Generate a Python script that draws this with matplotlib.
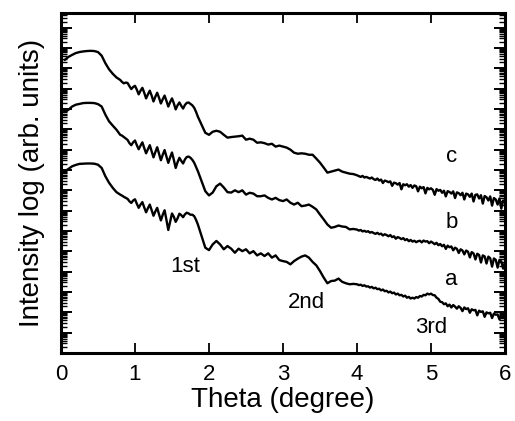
import numpy as np
import matplotlib.pyplot as plt
from matplotlib.ticker import LogLocator, NullFormatter

plt.rcParams['font.family'] = ['Liberation Sans', 'DejaVu Sans']

# theta grid, finer where the fringes and the noise are
theta_rise = np.round(np.arange(0.05, 0.801, 0.05), 3)
theta_fringe = np.round(np.arange(0.825, 1.8501, 0.025), 3)
theta_mid = np.round(np.arange(1.90, 3.951, 0.05), 3)
theta_tail = np.round(np.arange(4.0, 6.0001, 0.025), 3)
theta = np.concatenate([theta_rise, theta_fringe, theta_mid, theta_tail])

# log10(intensity) (curves are shifted vertically)
c_rise = [14.41, 14.56, 14.66, 14.75, 14.80, 14.83, 14.85, 14.86, 14.85, 14.80,
          14.62, 14.25, 13.95, 13.73, 13.55, 13.43]
c_fringe = [13.33, 13.26, 13.30, 13.28, 13.12, 12.98, 13.08, 13.14,
            12.95, 12.72, 12.90, 13.04, 12.80, 12.52, 12.72, 12.90,
            12.66, 12.37, 12.60, 12.80, 12.55, 12.27, 12.48, 12.66,
            12.40, 12.12, 12.34, 12.52, 12.28, 11.98, 12.18, 12.32,
            12.16, 12.02, 12.20, 12.30, 12.32, 12.25, 12.18, 12.06,
            11.86, 11.62]
c_mid = [11.23, 10.83, 10.73, 10.88, 10.93, 10.88, 10.73, 10.59, 10.62, 10.64,
         10.66, 10.69, 10.49, 10.54, 10.49, 10.34, 10.36, 10.32, 10.25, 10.29,
         10.15, 10.20, 10.15, 10.10, 10.00, 9.85, 9.80, 9.82, 9.80, 9.75,
         9.75, 9.56, 9.36, 9.12, 8.87, 8.92, 8.97, 9.02, 8.92, 8.87,
         8.82, 8.80]
c_tail = [8.74, 8.70, 8.66, 8.71, 8.63, 8.66, 8.62, 8.58, 8.63, 8.55,
          8.51, 8.58, 8.48, 8.53, 8.36, 8.48, 8.45, 8.40, 8.44, 8.22,
          8.38, 8.35, 8.28, 8.36, 8.05, 8.30, 8.25, 8.30, 8.18, 8.26,
          8.12, 8.24, 8.20, 7.95, 8.18, 8.10, 8.16, 7.85, 8.12, 8.05,
          8.10, 8.02, 7.78, 8.06, 7.98, 8.02, 7.88, 7.98, 7.70, 7.96,
          7.92, 7.84, 7.95, 7.62, 7.90, 7.86, 7.76, 7.88, 7.55, 7.84,
          7.80, 7.68, 7.84, 7.45, 7.78, 7.80, 7.60, 7.76, 7.35, 7.72,
          7.66, 7.50, 7.70, 7.25, 7.62, 7.55, 7.30, 7.60, 7.10, 7.50,
          7.40]

b_rise = [11.86, 11.96, 12.12, 12.21, 12.25, 12.29, 12.30, 12.30, 12.29, 12.24,
          12.12, 11.72, 11.39, 11.18, 10.98, 10.73]
b_fringe = [10.69, 10.62, 10.55, 10.48, 10.32, 10.22, 10.36, 10.45,
            10.22, 10.02, 10.20, 10.36, 10.08, 9.82, 10.02, 10.22,
            9.92, 9.62, 9.88, 10.12, 9.80, 9.48, 9.75, 9.98,
            9.66, 9.35, 9.62, 9.86, 9.50, 9.10, 9.38, 9.60,
            9.45, 9.32, 9.52, 9.64, 9.66, 9.60, 9.50, 9.36,
            9.15, 8.94]
b_mid = [8.45, 7.96, 7.75, 7.89, 8.20, 8.33, 8.14, 7.91, 7.89, 8.00,
         7.91, 8.00, 7.79, 7.88, 7.84, 7.71, 7.71, 7.75, 7.63, 7.55,
         7.63, 7.52, 7.47, 7.55, 7.39, 7.30, 7.39, 7.22, 7.25, 7.30,
         7.19, 7.06, 6.81, 6.57, 6.32, 6.16, 6.20, 6.27, 6.22, 6.20,
         6.08, 6.10]
b_tail = [6.07, 6.02, 6.05, 5.98, 6.01, 5.96, 5.99, 5.92, 5.95, 5.90,
          5.86, 5.91, 5.84, 5.87, 5.78, 5.84, 5.80, 5.74, 5.80, 5.70,
          5.74, 5.62, 5.70, 5.66, 5.60, 5.65, 5.55, 5.60, 5.50, 5.56,
          5.48, 5.52, 5.45, 5.50, 5.52, 5.44, 5.53, 5.48, 5.50, 5.40,
          5.48, 5.42, 5.35, 5.42, 5.30, 5.36, 5.25, 5.32, 5.12, 5.28,
          5.20, 5.24, 5.05, 5.18, 5.12, 4.92, 5.10, 5.04, 4.85, 5.04,
          4.98, 4.70, 4.96, 4.90, 4.60, 4.88, 4.82, 4.45, 4.80, 4.75,
          4.40, 4.74, 4.66, 4.25, 4.65, 4.58, 4.20, 4.58, 4.50, 4.15,
          4.48]

a_rise = [8.94, 9.05, 9.18, 9.25, 9.30, 9.31, 9.32, 9.32, 9.31, 9.26,
          9.10, 8.69, 8.37, 8.12, 7.91, 7.79]
a_fringe = [7.74, 7.68, 7.63, 7.58, 7.46, 7.38, 7.50, 7.56,
            7.34, 7.14, 7.30, 7.42, 7.16, 6.92, 7.12, 7.30,
            7.02, 6.75, 6.96, 7.14, 6.82, 6.52, 6.80, 7.02,
            6.55, 6.05, 6.45, 6.86, 6.70, 6.45, 6.62, 6.85,
            6.78, 6.68, 6.82, 6.90, 6.86, 6.80, 6.80, 6.73,
            6.55, 6.32]
a_mid = [5.75, 5.18, 5.06, 5.34, 5.51, 5.34, 5.10, 5.26, 5.13, 4.93,
         5.13, 5.01, 5.10, 4.90, 5.01, 4.80, 4.90, 4.77, 4.90, 4.69,
         4.80, 4.57, 4.52, 4.48, 4.36, 4.52, 4.64, 4.74, 4.80, 4.69,
         4.48, 4.31, 4.03, 3.71, 3.43, 3.54, 3.56, 3.66, 3.50, 3.43,
         3.38, 3.40]
a_tail = [3.38, 3.34, 3.36, 3.30, 3.33, 3.27, 3.28, 3.22, 3.25, 3.18,
          3.21, 3.14, 3.16, 3.08, 3.12, 3.04, 3.06, 2.98, 3.02, 2.94,
          2.97, 2.88, 2.92, 2.84, 2.86, 2.78, 2.82, 2.72, 2.76, 2.68,
          2.72, 2.68, 2.75, 2.72, 2.80, 2.78, 2.86, 2.84, 2.92, 2.88,
          2.92, 2.85, 2.84, 2.72, 2.66, 2.52, 2.50, 2.40, 2.44, 2.30,
          2.38, 2.24, 2.36, 2.28, 2.18, 2.30, 2.22, 2.06, 2.24, 2.16,
          2.20, 1.98, 2.15, 2.10, 2.12, 1.85, 2.08, 2.02, 2.05, 1.78,
          2.00, 1.95, 1.98, 1.72, 1.94, 1.88, 1.90, 1.65, 1.88, 1.80,
          1.84]

curve_names = ['a', 'b', 'c']
curve_label_pos = [(5.28, 3.63), (5.28, 6.42), (5.28, 9.66)]
peak_names = ['1st', '2nd', '3rd']
peak_label_pos = [(1.68, 4.26), (3.32, 2.50), (5.00, 1.23)]

curves = [a_rise + a_fringe + a_mid + a_tail,
          b_rise + b_fringe + b_mid + b_tail,
          c_rise + c_fringe + c_mid + c_tail]

fig = plt.figure(figsize=(5.15, 4.21), dpi=100)
ax = fig.add_axes([0.1184, 0.1615, 0.8622, 0.8076])

for vals in curves:
    ax.plot(theta, np.power(10.0, vals), color='black', lw=1.7,
            solid_joinstyle='round', solid_capstyle='round')

ax.set_yscale('log')
ax.set_xlim(0, 6)
ax.set_ylim(1, 10 ** 16.72)

for name, (xx, yy) in zip(curve_names, curve_label_pos):
    ax.text(xx, 10 ** yy, name, fontsize=16, ha='center', va='center')
for name, (xx, yy) in zip(peak_names, peak_label_pos):
    ax.text(xx, 10 ** yy, name, fontsize=16, ha='center', va='center')

ax.set_xticks([0, 1, 2, 3, 4, 5, 6])
ax.yaxis.set_major_locator(LogLocator(base=10, numticks=40))
ax.yaxis.set_minor_locator(LogLocator(base=10, subs=np.arange(2, 10), numticks=40))
ax.yaxis.set_major_formatter(NullFormatter())
ax.yaxis.set_minor_formatter(NullFormatter())

ax.tick_params(axis='x', which='major', direction='in', top=True, length=7, width=1.3,
               labelsize=16, pad=8)
ax.tick_params(axis='y', which='major', direction='in', right=True, length=8, width=1.4)
ax.tick_params(axis='y', which='minor', direction='in', right=True, length=4, width=1.0)
for sp in ax.spines.values():
    sp.set_linewidth(2.2)

ax.set_xlabel('Theta (degree)', fontsize=20, labelpad=1)
ax.set_ylabel('Intensity log (arb. units)', fontsize=20, labelpad=8)

fig.savefig('out.png', dpi=100)
